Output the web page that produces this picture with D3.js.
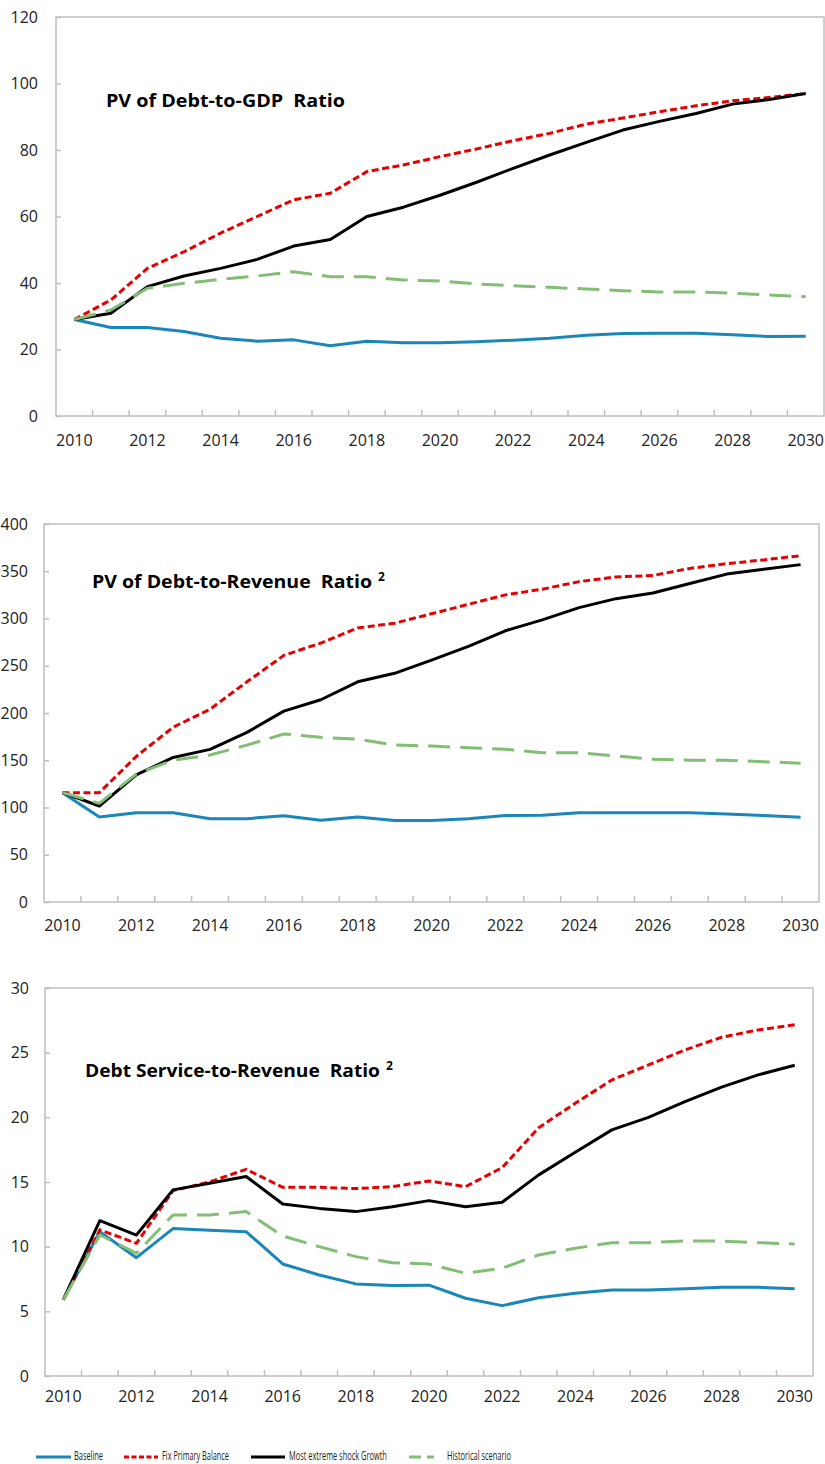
<!DOCTYPE html>
<html><head><meta charset="utf-8">
<script src="https://cdn.jsdelivr.net/npm/d3@7"></script>
<style>body{margin:0;background:#fff}svg{display:block}</style>
</head><body>
<script>
const years = d3.range(2010, 2031);
const xTickLabels = [2010,2012,2014,2016,2018,2020,2022,2024,2026,2028,2030];
const seriesNames = ["Baseline","Fix Primary Balance","Most extreme shock Growth","Historical scenario"];

// Chart 1: PV of Debt-to-GDP ratio
const gdpBaseline = [29,26.6,26.6,25.4,23.4,22.5,22.9,21.1,22.5,22,22,22.3,22.8,23.4,24.3,24.8,24.9,24.9,24.4,23.9,24];
const gdpFixPB    = [29,34.9,44.4,49.4,55,60,65,67,73.5,75.5,78,80.3,82.8,85,87.8,89.6,91.5,93.3,94.8,95.8,97];
const gdpShock    = [29,30.9,38.9,42.1,44.4,47.1,51.1,53.1,60,62.8,66.4,70.3,74.5,78.5,82.3,86,88.6,91,93.8,95.2,97];
const gdpHist     = [29,31.9,38.4,39.9,41.1,42.1,43.4,41.9,41.9,40.9,40.6,39.7,39.2,38.7,38.2,37.7,37.3,37.3,36.9,36.4,35.9];

// Chart 2: PV of Debt-to-Revenue ratio
const revBaseline = [115.7,90,94.5,94.5,88.2,88.2,91.3,86.5,89.9,86.3,86.3,88,91.5,91.7,94.5,94.5,94.5,94.5,93,91.5,89.6];
const revFixPB    = [115.7,115.7,154,185,204,233,261,274,290,295,305,315,325,331,339,344,345.5,353,358,362,366.5];
const revShock    = [115.7,101.6,134.5,153,161.5,179.5,202,214,233,242,256,270.5,287,298.5,311.5,321,327,337,347,352,357];
const revHist     = [115.7,104.4,135.5,150,155.6,166,177.8,174.3,172.2,166.1,165,163.3,161.6,158,158,154.5,151,150,150,148.5,146.8];

// Chart 3: Debt service-to-Revenue ratio
const dsBaseline = [5.9,11.16,9.15,11.4,11.27,11.16,8.66,7.81,7.12,6.99,7.02,6.01,5.44,6.05,6.39,6.65,6.65,6.75,6.86,6.86,6.75];
const dsFixPB    = [5.9,11.3,10.26,14.33,15.0,15.98,14.59,14.59,14.49,14.64,15.08,14.64,16.11,19.2,21.09,22.89,24.05,25.21,26.19,26.76,27.15];
const dsShock    = [5.9,12.01,10.9,14.39,14.9,15.42,13.3,12.96,12.71,13.09,13.56,13.09,13.43,15.55,17.3,19.03,20.0,21.22,22.33,23.28,24.03];
const dsHist     = [5.9,10.9,9.49,12.45,12.45,12.71,10.83,10.0,9.23,8.76,8.66,7.94,8.33,9.36,9.88,10.31,10.31,10.44,10.44,10.31,10.21];

const styles = [
  {color:"#1a86b9", dash:null},
  {color:"#e60000", dash:"7,3.5"},
  {color:"#000000", dash:null},
  {color:"#82bf75", dash:"22,10"}
];

const W = 825, H = 1464;
const svg = d3.select("body").append("svg").attr("width", W).attr("height", H);
const FONT = "'Open Sans', 'DejaVu Sans', sans-serif";

function drawChart(cfg){
  const x = d3.scaleBand().domain(years).range([cfg.left, cfg.right]).padding(0);
  const bw = x.bandwidth();
  const cx = d => x(d) + bw/2;
  const y = d3.scaleLinear().domain([0, cfg.ymax]).range([cfg.bottom, cfg.top]);
  const g = svg.append("g");

  g.append("rect").attr("x", cfg.left).attr("y", cfg.top)
    .attr("width", cfg.right - cfg.left).attr("height", cfg.bottom - cfg.top)
    .attr("fill", "none").attr("stroke", "#bfbfbf").attr("stroke-width", 1.5);

  const ya = d3.axisLeft(y).tickValues(d3.range(0, cfg.ymax + 0.001, cfg.ystep))
    .tickSize(-5).tickPadding(cfg.left - cfg.labelX);
  const yg = g.append("g").attr("transform", `translate(${cfg.left},0)`).call(ya);
  yg.select(".domain").remove();
  yg.selectAll(".tick line").attr("stroke", "#bfbfbf").attr("stroke-width", 1.5);
  yg.selectAll(".tick text").attr("font-family", FONT).attr("font-size", 16).attr("fill", "#222");

  g.append("g").selectAll("line").data(years.slice(1)).join("line")
    .attr("x1", d => x(d)).attr("x2", d => x(d))
    .attr("y1", cfg.bottom).attr("y2", cfg.bottom - 6)
    .attr("stroke", "#bfbfbf").attr("stroke-width", 1.5);

  g.append("g").selectAll("text").data(xTickLabels).join("text")
    .attr("x", d => cx(d)).attr("y", cfg.xLabelY)
    .attr("text-anchor", "middle").attr("dominant-baseline", "middle")
    .attr("font-family", FONT).attr("font-size", 16).attr("fill", "#222")
    .text(d => d);

  const line = d3.line().x((d, i) => cx(years[i])).y(d => y(d));
  cfg.series.forEach((s, i) => {
    g.append("path").datum(s).attr("d", line)
      .attr("fill", "none").attr("stroke", styles[i].color).attr("stroke-width", 3)
      .attr("stroke-dasharray", styles[i].dash).attr("stroke-linejoin", "round");
  });

  g.append("text").attr("x", cfg.titleX).attr("y", cfg.titleY)
    .attr("font-family", FONT).attr("font-size", 18).attr("font-weight", "bold").attr("fill", "#000")
    .attr("textLength", cfg.titleLen).attr("lengthAdjust", "spacingAndGlyphs")
    .attr("xml:space", "preserve")
    .text(cfg.title);
  if (cfg.sup) {
    g.append("text").attr("x", cfg.titleX + cfg.titleLen + 6).attr("y", cfg.titleY - 7)
      .attr("font-family", FONT).attr("font-size", 12).attr("font-weight", "bold").attr("fill", "#000")
      .text(cfg.sup);
  }
}

drawChart({left:56, right:824, top:17, bottom:416, ymax:120, ystep:20, labelX:38, xLabelY:442,
  title:"PV of Debt-to-GDP  Ratio", sup:null, titleX:106, titleY:107, titleLen:239,
  series:[gdpBaseline, gdpFixPB, gdpShock, gdpHist]});
drawChart({left:44, right:819, top:524, bottom:902, ymax:400, ystep:50, labelX:28, xLabelY:927,
  title:"PV of Debt-to-Revenue  Ratio", sup:"2", titleX:92, titleY:588, titleLen:280,
  series:[revBaseline, revFixPB, revShock, revHist]});
drawChart({left:45, right:813, top:988, bottom:1376, ymax:30, ystep:5, labelX:29, xLabelY:1398,
  title:"Debt Service-to-Revenue  Ratio", sup:"2", titleX:85, titleY:1077, titleLen:295,
  series:[dsBaseline, dsFixPB, dsShock, dsHist]});

const legendItems = [
  {x1:36, x2:71, tx:74, tl:29},
  {x1:124, x2:158, tx:162, tl:67},
  {x1:251, x2:285, tx:289, tl:98},
  {x1:409, x2:434, tx:447, tl:64}
];
const ly = 1457;
const lg = svg.append("g");
legendItems.forEach((it, i) => {
  lg.append("line").attr("x1", it.x1).attr("x2", it.x2).attr("y1", ly).attr("y2", ly)
    .attr("stroke", styles[i].color).attr("stroke-width", 3)
    .attr("stroke-dasharray", i === 1 ? "5,2.5" : (i === 3 ? "12,6" : null));
  const tg = lg.append("g");
  const t = tg.append("text").attr("x", 0).attr("y", 0).attr("dominant-baseline", "middle")
    .attr("font-family", FONT).attr("font-size", 13).attr("fill", "#222")
    .text(seriesNames[i]);
  const nat = t.node().getComputedTextLength();
  tg.attr("transform", `translate(${it.tx},${ly}) scale(${it.tl / nat},1)`);
});
</script>
</body></html>
